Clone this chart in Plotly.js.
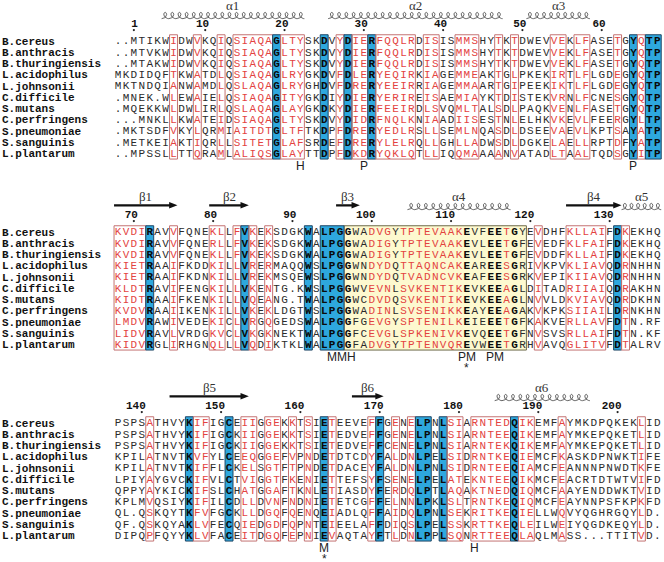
<!DOCTYPE html>
<html><head><meta charset="utf-8">
<script src="https://cdn.plot.ly/plotly-3.0.1.min.js"></script>
<style>html,body{margin:0;padding:0;background:#fff}#chart{width:664px;height:562px}</style>
</head><body><div id="chart"></div>
<script>
// ---------------- DATA ----------------
const species = ["B.cereus","B.anthracis","B.thuringiensis","L.acidophilus","L.johnsonii","C.difficile","S.mutans","C.perfringens","S.pneumoniae","S.sanguinis","L.plantarum"];

const block1 = [
"..MTIKWIDWVKQIQSIAQAGLTYSKDVYDIERFQQLRDISISMMSHYTKTDWEVVEKLFASETGYQTP",
"..MTVKWIDWVKQIQSIAQAGLTYSKDVYDIERFQQLRDISISMMSHYTKTDWEVVEKLFASETGYQTP",
"..MTAKWIDWVKQIQSIAQAGLTYSKDVYDIERFQQLRDISISMMSHYTKTDWEVVEKLFASETGYQTP",
"MKDIDQFTKWATDLQSIAQAGLRYGKDVFDLERYEQIRKIAGEMMEAKTGLPKEKIRTLFLGDEGYQTP",
"MKTNDQIANWAMDLQSLAQAGLRYGHDVFDRERYEEIRRIAGEMMAARTGIPEEKIKTLFLGDEGYQTP",
".MNEK.WLEWAIELQSIAQAGITYGKDIYDIERYERIREISAEMIAYKTDISTEKVRNLFCNESGYQTP",
".MQEKKWLDWLIRLQSLAQAGLAYGKDKYDIERFEEIRDLSVQMLTALSDLPAQKVENLFASETGYQTP",
"...MNKLLKWATEIDSIAQAGLTYSKDVYDIDRFNQLKNIAADIISESTNLELHKVKEVLFEERGYLTP",
".MKTSDFVKYLQRMIAITDTGLTFTKDPFDRERYEDLRSLLSEMLNQASDLDSEEVAEVLKPTSAYATP",
".METKEIAKTIQRLLSITETGLAFSRDEFDRERYLELRQLLGHLLADWSDLDGKELAELLRPTDFYATP",
"..MPSSLLTTQRAMLALIQSGLAYTTDPFDKDRYQKLQTLLIQQMAAAANVATADLTAALTQDSGYITP"];

const block2 = [
"KVDIRAVVFQNEKLLFVKEKSDGKWALPGGWADVGYTPTEVAAKEVFEETGYEVDHFKLLAIFDKEKHQ",
"KVDIRAVVFQNERLLFVKEKSDGKWALPGGWADIGYTPTEVAAKEVLEETGFEVEDFKLFAIFDKEKHQ",
"KVDIRAVVFQNEKLLFVKEKSDGKWALPGGWADIGYTPTEVAAKEVLEETGFEVDDFKLLAIFDKEKHQ",
"KIETRAAIFKDDKILLVRERMAQQWSLPGGWNDYDQTTAQNCAKEAREESGRIVKPVKLIAVQDRNHHN",
"KIETRAAIFKDNKILLVREKMSQEWSLPGGWNDYDQTVADNCVKEAFEESGRKVEPIKIIAVQDRNHHN",
"KLDTRAVIFENGKILLVKENTG.KWSLPGGWVEVNLSVKENTIKEVKEEAGLDITADRIIAIQDRAKHN",
"KIDTRAAIFKENKILLVQEANG.TWALPGGWCDVDQSVKENTIKEVKEEAGLNVVLDKVIAVQDRDKHN",
"KVDVRAAIIKENKILLVKEKLDGTWSLPGGWADINLSVSENIKKEAYEEAGAKVKPKSIIAILDRNKHN",
"LMDVRAWIVEDEKICLVRGQGEDSWALPGGFGEVGYSPTENILKEIEEETGFKAKVERLLAVFDTN.RF",
"LIDVRAVLVRDGKVCLVKGKNEKTWALPGGFCEVGLSPKENIVKEVQEETGFNVSVSRLLAIFDTN.KF",
"KIDVRGLIRHGNQLLLVQDIKTKLWALPGGFADVGYTPTENVQREVWEETGRHVAVQGLITVFDTALRV"];

const block3 = [
"PSPSATHVYKIFIGCEIIGGEKKTSIETEEVEFFGENELPNLSIARNTEDQIKEMFAYMKDPQKEKLID",
"PSPSATHVYKIFIGCKIIGGEKKTSIETEDVEFFGENELPNLSIARNTEEQIKEMFAYMKEPQKETLID",
"PSPSATHVYKIFIGCKIIGGEKKTSIETEDVEFFCENELPNLSIARNTEKQIKEMFAYMKEPQKETLID",
"KPILATNVTKVFYLCEEQGGEFVPNDETDTCDYFALDNLPELSIDRNTKEQIEMCFKASKDPNWKTIFE",
"KPILATNVTKIFFLCKELSGTFTPNDETDACEYFALDNLPNLSIDRNTEEQIAMCFEANNNPNWDTKFE",
"LPIYAYGVCKIFVLCTVIGGTFKENIETTEFSYFSENELPELATEKNTEEQIKMCFEACRTDTWTVIFD",
"QPPYAYKICKIFSLCHATGGAFTKNLETIASDYFERDQLPTLAQAKTNEDQIQMCFAAYENDDWKTVID",
"KPLMVQSIYKIFILCDLLDVNFNDNIETETCGFFELNNLPKLSLTRNTKEQIQMCFEAYNNPSFKPKFD",
"QL.QSKQYTKFVFGCKLLDGQFQENQEIADLQFFAIDQLPNLSEKRITKEQIELLWQVYQGHRGQYLD.",
"QF.QSKQYAKLVFECQIEDGDFQPNTEIEELAFFDIQSLPELSSKRTTKEQLEILWEIYQGDKEQYLD.",
"DIPQPFQYYKLVFACEITDGQFEPNIEVAQTAYFTLDNLPPLSQNRTTEEQLAQLMASS...TTITVD."];

// column classes: B = strictly conserved (blue), r = similar (red), b = identical in highlighted box, . = other
const classes1 = ".......r..r..r.rrrrrBrrr..B.rBrrBrrrrr.rr..rrr..r.r....rr.rr...r.BrBB";
const classes2 = "rrrrB..r....rr.rBr.r....B.BBBb..rrr.rrrrrrrrb..bbrb..r...rrrrr.Br....";
const classes3 = "....r....Brr..B.rr.rr.r.r.Br....rB.r.rBB.Brr.rrrrrBrr...r.........r..";

// residue number of column 0 in each block, and ruler ticks
const firstResidue = [-1, 68, 137];
const ruler1 = [1,10,20,30,40,50,60];
const ruler2 = [70,80,90,100,110,120,130];
const ruler3 = [140,150,160,170,180,190,200];

// highlighted region (block index, first and last column)
const hlBlock = 1, hlFrom = 29, hlTo = 51;

// secondary structure elements
const ssBlock = [0,0,0,1,1,1,1,1,1,2,2,2];
const ssType  = ['H','H','H','E','E','E','H','E','H','E','E','H'];
const ssLabel = ['α1','α2','α3','β1','β2','β3','α4','β4','α5','β5','β6','α6'];
const ssStart = [6,27,52,0,12,28,37,57,64,7,30,48];
const ssEnd   = [23,48,59,7,16,30,49,63,68,16,33,59];

// site letters under the alignment
const siteBlock = [0,0,0,1,1,1,2,2];
const siteCol   = [23,31,65,28.2,44,47.5,26,45];
const siteText  = ['H','P','P','MMH','PM','PM','M','H'];
const starBlock = [1,2];
const starCol   = [44,26];

// ---------------- DRAWING ----------------
const PX_COL = 7.93, COL0_PX = 118, PX_ROW = 11.25, ROW0_PX = 41.5;
const BLOCK_STEP = 191 / PX_ROW;
const blocks = [block1, block2, block3];
const classes = [classes1, classes2, classes3];
const rulers = [ruler1, ruler2, ruler3];
const nRows = species.length;

const RED = '#e3433f', BLACK = '#2b2b2b', BLUE = '#2ea8de', NAVY = '#1e4564', BOXRED = '#c47373';

const groups = {black:{x:[],y:[],t:[]}, red:{x:[],y:[],t:[]}, bold:{x:[],y:[],t:[]}};
const shapes = [];
const annotations = [];
const traces = [];

function inHL(b, c){ return b === hlBlock && c >= hlFrom && c <= hlTo; }

blocks.forEach((blk, b) => {
  const yb = b * BLOCK_STEP;
  const cls = classes[b];
  blk.forEach((seq, r) => {
    for (let c = 0; c < seq.length; c++) {
      const k = cls[c];
      let g = 'black';
      if (k === 'B' || k === 'b') g = 'bold';
      else if (k === 'r' && seq[c] !== '.') g = 'red';
      groups[g].x.push(c); groups[g].y.push(yb + r); groups[g].t.push(seq[c]);
    }
  });
  const top = yb - 0.6, bot = yb + nRows - 1 + 0.45;
  if (b === hlBlock) {
    shapes.push({type:'rect', xref:'x', yref:'y', x0:hlFrom-0.5, x1:hlTo+0.5, y0:top, y1:bot,
      fillcolor:'#fdf9cf', line:{color:'#6e6a4a', width:1}, layer:'below'});
  }
  let c = 0;
  while (c < cls.length) {
    const k = cls[c];
    if (k === 'B' || (k === 'r' && !inHL(b, c))) {
      let e = c;
      while (e + 1 < cls.length && cls[e+1] === k && !inHL(b, e+1)) e++;
      if (k === 'B') shapes.push({type:'rect', xref:'x', yref:'y', x0:c-0.5, x1:e+0.5, y0:top, y1:bot,
          fillcolor:BLUE, line:{color:NAVY, width:1}, layer:'below'});
      else shapes.push({type:'rect', xref:'x', yref:'y', x0:c-0.5, x1:e+0.5, y0:top, y1:bot,
          fillcolor:'rgba(0,0,0,0)', line:{color:BOXRED, width:1}, layer:'below'});
      c = e + 1;
    } else c++;
  }
  species.forEach((s, r) => annotations.push({x:-COL0_PX/PX_COL, y:yb + r, xref:'x', yref:'y', text:s,
    showarrow:false, xanchor:'left', yanchor:'middle', font:{family:'Liberation Mono', size:11, color:'#111', weight:'bold'}}));
  const rc = rulers[b].map(n => n - firstResidue[b]);
  traces.push({type:'scatter', mode:'text', x:rc.map(v => v + 0.5), y:rc.map(() => yb - 1.55),
    text:rulers[b].map(String), textposition:'middle left',
    textfont:{family:'Liberation Mono', size:11, color:'#111', weight:'bold'}, hoverinfo:'skip'});
  traces.push({type:'scatter', mode:'markers', x:rc, y:rc.map(() => yb - 1.02),
    marker:{size:2.2, color:'#222'}, hoverinfo:'skip'});
});

ssType.forEach((t, i) => {
  const yb = ssBlock[i] * BLOCK_STEP;
  const xs = ssStart[i] - 0.5, xe = ssEnd[i] + 0.5;
  annotations.push({x:(xs + xe) / 2, y:yb - 3.2, xref:'x', yref:'y', text:ssLabel[i], showarrow:false,
    xanchor:'center', yanchor:'middle', font:{family:'Liberation Serif', size:13, color:'#333'}});
  if (t === 'H') {
    const n = Math.max(1, Math.round((xe - xs) / 0.9));
    const p = (xe - xs) / n, base = yb - 2.03, h = 0.56, a = 0.38;
    const hx = [], hy = [];
    for (let k = 0; k <= n * 24; k++) {
      const tt = k / 24;
      hx.push(xs + p * tt + a * Math.sin(2 * Math.PI * tt));
      hy.push(base - h * (1 - Math.cos(2 * Math.PI * tt)) / 2);
    }
    traces.push({type:'scatter', mode:'lines', x:hx, y:hy, line:{color:'#555', width:0.9}, hoverinfo:'skip'});
  } else {
    const yc = yb - 2.42, sh = 0.1, hh = 0.29, hl = 1.05, xh = xe - hl;
    shapes.push({type:'path', xref:'x', yref:'y', fillcolor:'#111', line:{width:0},
      path:`M ${xs} ${yc-sh} L ${xh} ${yc-sh} L ${xh} ${yc-hh} L ${xe} ${yc} L ${xh} ${yc+hh} L ${xh} ${yc+sh} L ${xs} ${yc+sh} Z`});
  }
});

siteText.forEach((s, i) => annotations.push({x:siteCol[i], y:siteBlock[i]*BLOCK_STEP + nRows - 1 + 1.05, xref:'x', yref:'y',
  text:s, showarrow:false, xanchor:'center', yanchor:'middle', font:{family:'Liberation Sans', size:12, color:'#222'}}));
starCol.forEach((c, i) => annotations.push({x:c, y:starBlock[i]*BLOCK_STEP + nRows - 1 + 2.05, xref:'x', yref:'y',
  text:'*', showarrow:false, xanchor:'center', yanchor:'middle', font:{family:'Liberation Sans', size:12, color:'#222'}}));

const seqFont = {family:'Liberation Mono', size:11};
traces.push({type:'scatter', mode:'text', x:groups.black.x, y:groups.black.y, text:groups.black.t,
  textposition:'middle center', textfont:Object.assign({color:BLACK}, seqFont), hoverinfo:'skip'});
traces.push({type:'scatter', mode:'text', x:groups.red.x, y:groups.red.y, text:groups.red.t,
  textposition:'middle center', textfont:Object.assign({color:RED}, seqFont), hoverinfo:'skip'});
traces.push({type:'scatter', mode:'text', x:groups.bold.x, y:groups.bold.y, text:groups.bold.t,
  textposition:'middle center', textfont:Object.assign({color:'#0a0a0a', weight:'bold'}, seqFont), hoverinfo:'skip'});

const layout = {
  width:664, height:562, margin:{l:0, r:0, t:0, b:0},
  paper_bgcolor:'#fff', plot_bgcolor:'#fff', showlegend:false, hovermode:false,
  xaxis:{range:[-COL0_PX/PX_COL, (664-COL0_PX)/PX_COL], visible:false, fixedrange:true},
  yaxis:{range:[(562-ROW0_PX)/PX_ROW, -ROW0_PX/PX_ROW], visible:false, fixedrange:true},
  shapes:shapes, annotations:annotations
};
Plotly.newPlot('chart', traces, layout, {staticPlot:true, displayModeBar:false});
</script>
</body></html>
